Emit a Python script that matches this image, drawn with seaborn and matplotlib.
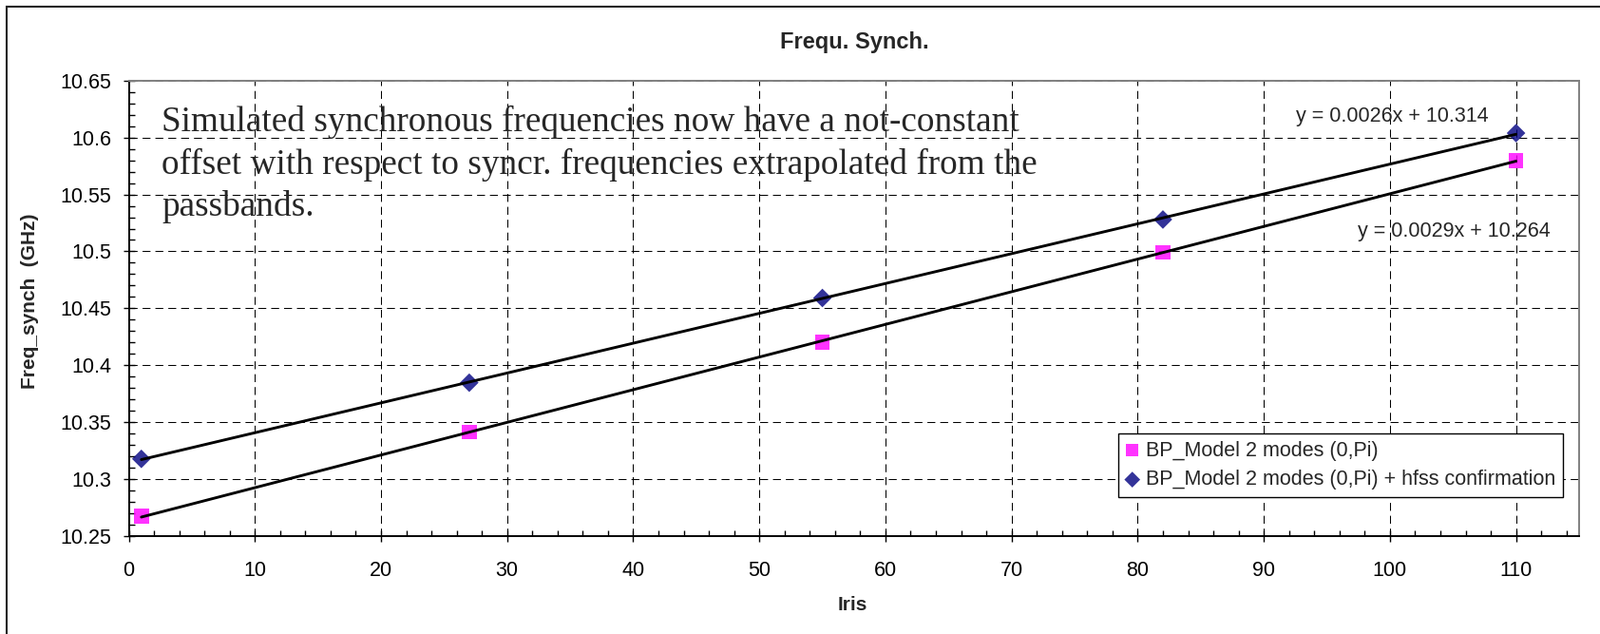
import matplotlib
matplotlib.use("Agg")
import matplotlib.pyplot as plt
from matplotlib.ticker import MultipleLocator, FuncFormatter
from matplotlib.patches import Rectangle
import seaborn as sns

# ---- data ----
iris = [1, 27, 55, 82, 110]
freq_bp = [10.267, 10.341, 10.420, 10.499, 10.580]
freq_hfss = [10.3175, 10.3845, 10.459, 10.528, 10.604]
label_bp = "BP_Model 2 modes (0,Pi)"
label_hfss = "BP_Model 2 modes (0,Pi) + hfss confirmation"
eq_bp = "y = 0.0029x + 10.264"
eq_hfss = "y = 0.0026x + 10.314"
title = "Frequ. Synch."
xlabel = "Iris"
ylabel = "Freq_synch  (GHz)"
note = ("Simulated synchronous frequencies now have a not-constant\n"
        "offset with respect to syncr. frequencies extrapolated from the\n"
        "passbands.")

sns.set_style("ticks")
plt.rcParams["font.family"] = ["Liberation Sans", "DejaVu Sans"]

W, H = 1684, 667
fig = plt.figure(figsize=(W / 100, H / 100), dpi=100)
L, R, T, B = 135.5, 1662, 85, 563.5
ax = fig.add_axes([L / W, 1 - B / H, (R - L) / W, (B - T) / H])

sns.regplot(x=iris, y=freq_bp, ax=ax, ci=None, truncate=True, marker="s",
            scatter_kws=dict(s=125, color="#FF00FF", edgecolors="none", zorder=3),
            line_kws=dict(color="black", lw=2.1, zorder=4), label=label_bp)
sns.regplot(x=iris, y=freq_hfss, ax=ax, ci=None, truncate=True, marker="D",
            scatter_kws=dict(s=100, color="#000080", edgecolors="none", zorder=3),
            line_kws=dict(color="black", lw=2.1, zorder=4), label=label_hfss)

ax.set_xlim(0, 115)
ax.set_ylim(10.25, 10.65)
ax.xaxis.set_major_locator(MultipleLocator(10))
ax.xaxis.set_minor_locator(MultipleLocator(2))
ax.yaxis.set_major_locator(MultipleLocator(0.05))
ax.yaxis.set_minor_locator(MultipleLocator(0.01))
ax.yaxis.set_major_formatter(FuncFormatter(lambda v, p: f"{v:g}"))

ax.grid(True, which="major", color="black", linestyle=(0, (8, 5)), linewidth=0.75)
ax.set_axisbelow(True)

ax.tick_params(which="major", direction="inout", length=8, width=1.0,
               color="black", labelsize=15.5, labelcolor="black")
ax.tick_params(which="minor", direction="in", length=4.3, width=1.0, color="black")
ax.tick_params(axis="x", which="major", pad=15)
ax.tick_params(axis="y", which="major", pad=9.3)
ax.tick_params(top=False, right=False, which="both")

for s in ["left", "bottom"]:
    ax.spines[s].set_color("black")
    ax.spines[s].set_linewidth(1.4)
for s in ["top", "right"]:
    ax.spines[s].set_color("#808080")
    ax.spines[s].set_linewidth(1.4)
    ax.spines[s].set_visible(True)

ax.set_xlabel(xlabel, fontsize=15, weight="bold", va="center")
ax.xaxis.set_label_coords((897 - L) / (R - L), (B - 636) / (B - T))
ax.set_ylabel(ylabel, fontsize=15, weight="bold", va="center")
ax.yaxis.set_label_coords((32 - L) / (R - L), (B - 317) / (B - T))

fig.text(899 / W, 1 - 45 / H, title, ha="center", va="center",
         fontsize=17, weight="bold")

# va='baseline' anchors the last line's baseline for multi-line text
fig.text(170 / W, 1 - 227 / H, note, ha="left", va="baseline",
         fontsize=26.8, family=["Liberation Serif", "DejaVu Serif"], linespacing=1.35)

ax.text(107.8, 10.6187, eq_hfss, ha="right", va="center", fontsize=15.5)
ax.text(112.7, 10.5177, eq_bp, ha="right", va="center", fontsize=15.5)

leg = ax.legend(loc="upper right", bbox_to_anchor=(1644.5 / W, 1 - 456 / H),
                bbox_transform=fig.transFigure, borderaxespad=0, frameon=True,
                fancybox=False, edgecolor="black", framealpha=1, fontsize=15.5,
                handlelength=0.7, handletextpad=0.3, borderpad=0.35,
                labelspacing=0.45, markerscale=0.85)
leg.get_frame().set_linewidth(1.0)

fig.add_artist(Rectangle((7 / W, -0.1), 1.2, (1 - 7 / H) + 0.1,
                         transform=fig.transFigure, fill=False,
                         lw=1.5, edgecolor="#222222"))

fig.savefig("out.png", dpi=100)
